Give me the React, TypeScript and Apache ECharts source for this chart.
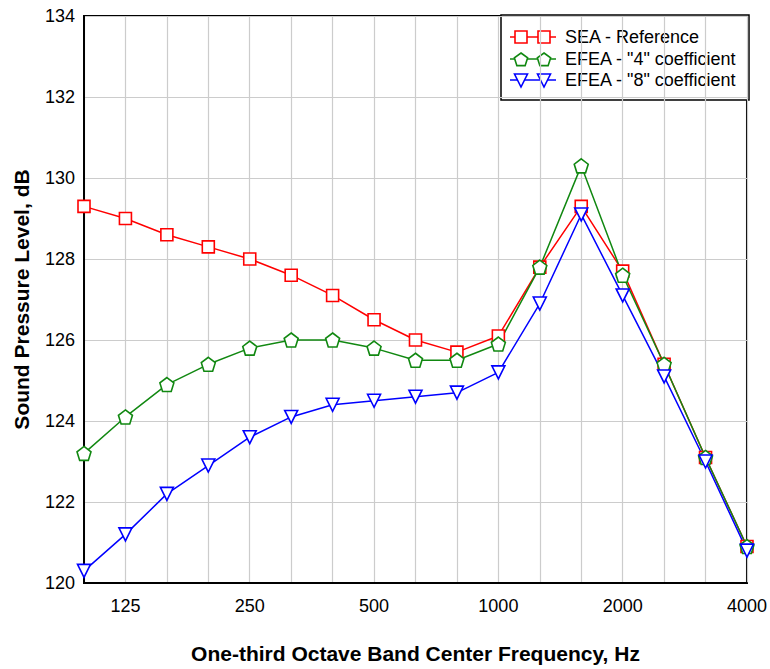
import React, { useEffect, useRef } from "react";
import * as echarts from "echarts";

const frequencies = ["100", "125", "160", "200", "250", "315", "400", "500", "630", "800", "1000", "1250", "1600", "2000", "2500", "3150", "4000"];
const labeledFrequencies = ["125", "250", "500", "1000", "2000", "4000"];
const seaReference = [129.3, 129.0, 128.6, 128.3, 128.0, 127.6, 127.1, 126.5, 126.0, 125.7, 126.1, 127.8, 129.3, 127.7, 125.4, 123.1, 120.9];
const efea4 = [123.2, 124.1, 124.9, 125.4, 125.8, 126.0, 126.0, 125.8, 125.5, 125.5, 125.9, 127.8, 130.3, 127.6, 125.4, 123.1, 120.9];
const efea8 = [120.3, 121.2, 122.2, 122.9, 123.6, 124.1, 124.4, 124.5, 124.6, 124.7, 125.2, 126.9, 129.1, 127.1, 125.1, 123.0, 120.8];
const seriesNames = ["SEA - Reference", 'EFEA - "4" coefficient', 'EFEA - "8" coefficient'];

const RED = "#ff0000";
const GREEN = "#118811";
const BLUE = "#0000ff";
const FONT = "'Liberation Sans', Arial, sans-serif";
const PENTAGON = "path://M50,0 L97.55,34.55 L79.39,90.45 L20.61,90.45 L2.45,34.55 Z";

function legendSymbol(kind: string, cx: number, cy: number, color: string): any {
  const style = { fill: "#fff", stroke: color, lineWidth: 1.6 };
  if (kind === "rect") {
    return { type: "rect", shape: { x: cx - 6, y: cy - 6, width: 12, height: 12 }, style };
  }
  if (kind === "pentagon") {
    const r = 7;
    const pts: number[][] = [];
    for (let i = 0; i < 5; i++) {
      const a = (-90 + i * 72) * Math.PI / 180;
      pts.push([cx + r * Math.cos(a), cy + 1 + r * Math.sin(a)]);
    }
    return { type: "polygon", shape: { points: pts }, style };
  }
  return { type: "polygon", shape: { points: [[cx - 6.5, cy - 6], [cx + 6.5, cy - 6], [cx, cy + 7]] }, style };
}

export default function App() {
  const ref = useRef<HTMLDivElement>(null);
  useEffect(() => {
    document.body.style.margin = "0";
    const chart = echarts.init(ref.current!, null, { renderer: "svg" });
    const colors = [RED, GREEN, BLUE];
    const kinds = ["rect", "pentagon", "triangle"];
    const rowsY = [37, 59, 80];
    const legendChildren: any[] = [
      { type: "rect", shape: { x: 501, y: 15, width: 248, height: 85 }, style: { fill: "#fff", stroke: "#000", lineWidth: 1.5 } },
    ];
    seriesNames.forEach((n, i) => {
      const y = rowsY[i];
      legendChildren.push({ type: "line", shape: { x1: 510, y1: y, x2: 556, y2: y }, style: { stroke: colors[i], lineWidth: 1.5 } });
      legendChildren.push(legendSymbol(kinds[i], 521, y, colors[i]));
      legendChildren.push(legendSymbol(kinds[i], 544, y, colors[i]));
      legendChildren.push({
        type: "text",
        x: 565,
        y,
        style: { text: n, fontFamily: FONT, fontSize: 18, fill: "#000", verticalAlign: "middle", align: "left" },
      });
    });

    const mk = (name: string, data: number[], color: string, symbol: string, size: number, rotate = 0) => ({
      name,
      type: "line",
      data,
      symbol,
      symbolSize: size,
      symbolRotate: rotate,
      showAllSymbol: true,
      lineStyle: { color, width: 1.5 },
      itemStyle: { color: "#fff", borderColor: color, borderWidth: 1.6 },
      emphasis: { disabled: true },
    });

    chart.setOption({
      animation: false,
      grid: { left: 84, right: 22, top: 16, bottom: 84, show: true, borderColor: "#000", borderWidth: 2, backgroundColor: "transparent" },
      xAxis: {
        type: "category",
        data: frequencies,
        boundaryGap: false,
        name: "One-third Octave Band Center Frequency, Hz",
        nameLocation: "middle",
        nameGap: 60,
        nameTextStyle: { fontFamily: FONT, fontSize: 21, fontWeight: "bold", color: "#000" },
        axisLine: { show: true, lineStyle: { color: "#000", width: 2 } },
        axisTick: { show: false },
        axisLabel: {
          interval: 0,
          formatter: (v: string) => (labeledFrequencies.includes(v) ? v : ""),
          fontFamily: FONT,
          fontSize: 18,
          color: "#000",
          margin: 14,
        },
        splitLine: { show: true, interval: 0, lineStyle: { color: "#cccccc", width: 1.2 } },
      },
      yAxis: {
        type: "value",
        min: 120,
        max: 134,
        interval: 2,
        name: "Sound Pressure Level, dB",
        nameLocation: "middle",
        nameGap: 52,
        nameTextStyle: { fontFamily: FONT, fontSize: 21, fontWeight: "bold", color: "#000" },
        axisLine: { show: true, lineStyle: { color: "#000", width: 2 } },
        axisTick: { show: false },
        axisLabel: { fontFamily: FONT, fontSize: 18, color: "#000", margin: 9 },
        splitLine: { show: true, lineStyle: { color: "#cccccc", width: 1.2 } },
      },
      series: [
        mk(seriesNames[0], seaReference, RED, "rect", 12),
        mk(seriesNames[1], efea4, GREEN, PENTAGON, 14),
        mk(seriesNames[2], efea8, BLUE, "triangle", 13, 180),
      ],
      graphic: { elements: [{ type: "group", children: legendChildren }] },
    });
    return () => chart.dispose();
  }, []);
  return <div ref={ref} style={{ width: 770, height: 669 }} />;
}
